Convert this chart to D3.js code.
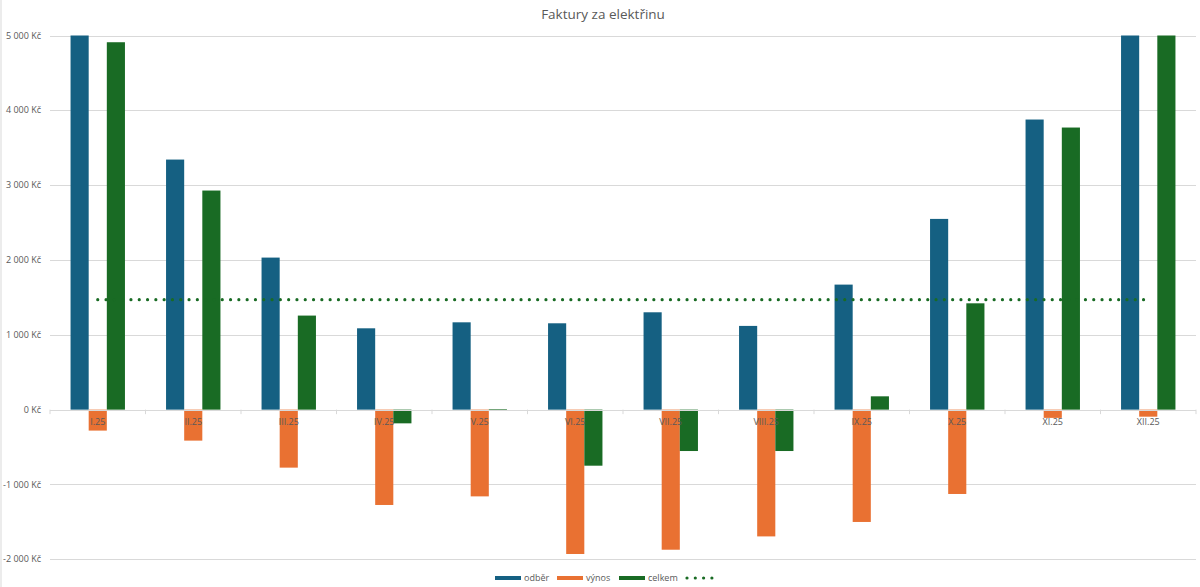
<!DOCTYPE html>
<meta charset='utf-8'>
<head>
    <title>Faktury za elektřinu</title>
    <script src='https://cdn.jsdelivr.net/npm/d3@7'></script>
</head>

<style>
    body { margin: 0; background: white; }
    text { font-family: 'Open Sans', 'Noto Sans', sans-serif; fill: #595959; }
    .grid line { stroke: #d9d9d9; stroke-width: 1px; }
</style>

<svg></svg>

<script>
    var vWidth = 1200;
    var vHeight = 587;

    // Data
    var vMonths = ['I.25', 'II.25', 'III.25', 'IV.25', 'V.25', 'VI.25', 'VII.25', 'VIII.25', 'IX.25', 'X.25', 'XI.25', 'XII.25'];
    var vOdber = [5190, 3342, 2032, 1087, 1167, 1154, 1301, 1119, 1671, 2549, 3877, 5465];
    var vVynos = [-280, -414, -775, -1274, -1159, -1929, -1872, -1694, -1501, -1127, -110, -94];
    var vCelkem = [4910, 2928, 1257, -183, 8, -749, -553, -553, 178, 1421, 3770, 5371];
    var vPrumer = [1470, 1470, 1470, 1470, 1470, 1470, 1470, 1470, 1470, 1470, 1470, 1470];
    var vTicks = [-2000, -1000, 0, 1000, 2000, 3000, 4000, 5000];

    var vSeries = [
        {name: 'odběr', color: '#156082', values: vOdber},
        {name: 'výnos', color: '#E97132', values: vVynos},
        {name: 'celkem', color: '#196B24', values: vCelkem}
    ];

    var vPlot = {left: 50, right: 1196, top: 35.5, bottom: 559.3};

    var svg = d3.select('svg').attr('width', vWidth).attr('height', vHeight);

    // chart border (only left edge is visible in the picture)
    svg.append('line')
        .attr('x1', 1).attr('x2', 1).attr('y1', 0).attr('y2', vHeight)
        .attr('stroke', '#d9d9d9');

    // Scales
    var x = d3.scaleBand().domain(vMonths).range([vPlot.left, vPlot.right]).padding(0);
    var xSub = d3.scaleBand().domain(vSeries.map(function (s) { return s.name; }))
        .range([0, 54.4]).padding(0);
    var y = d3.scaleLinear().domain([-2000, 5000]).range([vPlot.bottom, vPlot.top]);

    var cz = d3.formatLocale({decimal: ',', thousands: '\u00a0', grouping: [3], currency: ['', ' Kč'], minus: '-'});
    var fmt = function (d) { return cz.format(',.0f')(d) + ' Kč'; };

    // Gridlines + y labels
    var grid = svg.append('g').attr('class', 'grid');
    grid.selectAll('line').data(vTicks).enter().append('line')
        .attr('x1', vPlot.left).attr('x2', vPlot.right)
        .attr('y1', function (d) { return Math.round(y(d)) + 0.5; })
        .attr('y2', function (d) { return Math.round(y(d)) + 0.5; });

    svg.append('g').selectAll('text').data(vTicks).enter().append('text')
        .attr('x', 41)
        .attr('y', function (d) { return y(d); })
        .attr('dy', '0.35em')
        .attr('text-anchor', 'end')
        .attr('font-size', 9)
        .text(fmt);

    // Bars, clipped to the plot area
    svg.append('clipPath').attr('id', 'plotClip').append('rect')
        .attr('x', vPlot.left).attr('y', vPlot.top)
        .attr('width', vPlot.right - vPlot.left).attr('height', vPlot.bottom - vPlot.top);

    var bars = svg.append('g').attr('clip-path', 'url(#plotClip)');
    var groupOffset = (x.bandwidth() - 54.4) / 2;

    vSeries.forEach(function (s) {
        bars.append('g').selectAll('rect').data(s.values).enter().append('rect')
            .attr('x', function (d, i) { return x(vMonths[i]) + groupOffset + xSub(s.name); })
            .attr('width', xSub.bandwidth())
            .attr('y', function (d) { return y(Math.max(0, d)); })
            .attr('height', function (d) { return Math.abs(y(d) - y(0)); })
            .attr('fill', s.color);
    });

    // Category axis at zero
    var xAxis = svg.append('g');
    xAxis.append('line')
        .attr('x1', vPlot.left).attr('x2', vPlot.right)
        .attr('y1', Math.round(y(0)) + 0.5).attr('y2', Math.round(y(0)) + 0.5)
        .attr('stroke', '#d9d9d9');
    xAxis.selectAll('.tick').data(vMonths.concat(['end'])).enter().append('line')
        .attr('x1', function (d, i) { return vPlot.left + i * x.bandwidth(); })
        .attr('x2', function (d, i) { return vPlot.left + i * x.bandwidth(); })
        .attr('y1', y(0)).attr('y2', y(0) + 4.5)
        .attr('stroke', '#d9d9d9');
    xAxis.selectAll('text').data(vMonths).enter().append('text')
        .attr('x', function (d) { return x(d) + x.bandwidth() / 2; })
        .attr('y', y(0) + 15)
        .attr('text-anchor', 'middle')
        .attr('font-size', 9)
        .text(function (d) { return d; });

    // Dotted average line
    var line = d3.line()
        .x(function (d, i) { return x(vMonths[i]) + x.bandwidth() / 2; })
        .y(function (d) { return y(d); });
    svg.append('path').datum(vPrumer)
        .attr('d', line)
        .attr('fill', 'none')
        .attr('stroke', '#196B24')
        .attr('stroke-width', 3.2)
        .attr('stroke-linecap', 'round')
        .attr('stroke-dasharray', '0 8.3');

    // Title
    svg.append('text')
        .attr('x', 603).attr('y', 19)
        .attr('text-anchor', 'middle')
        .attr('font-size', 13.5)
        .text('Faktury za elektřinu');

    // Legend
    var vLegendX = [495, 557, 619];
    var legend = svg.append('g');
    vSeries.forEach(function (s, i) {
        legend.append('rect')
            .attr('x', vLegendX[i]).attr('y', 576)
            .attr('width', 26).attr('height', 4)
            .attr('fill', s.color);
        legend.append('text')
            .attr('x', vLegendX[i] + 29).attr('y', 578)
            .attr('dy', '0.35em')
            .attr('font-size', 9)
            .text(s.name);
    });
    legend.append('line')
        .attr('x1', 687).attr('x2', 712.5).attr('y1', 578).attr('y2', 578)
        .attr('stroke', '#196B24')
        .attr('stroke-width', 3.2)
        .attr('stroke-linecap', 'round')
        .attr('stroke-dasharray', '0 8.3');
</script>
